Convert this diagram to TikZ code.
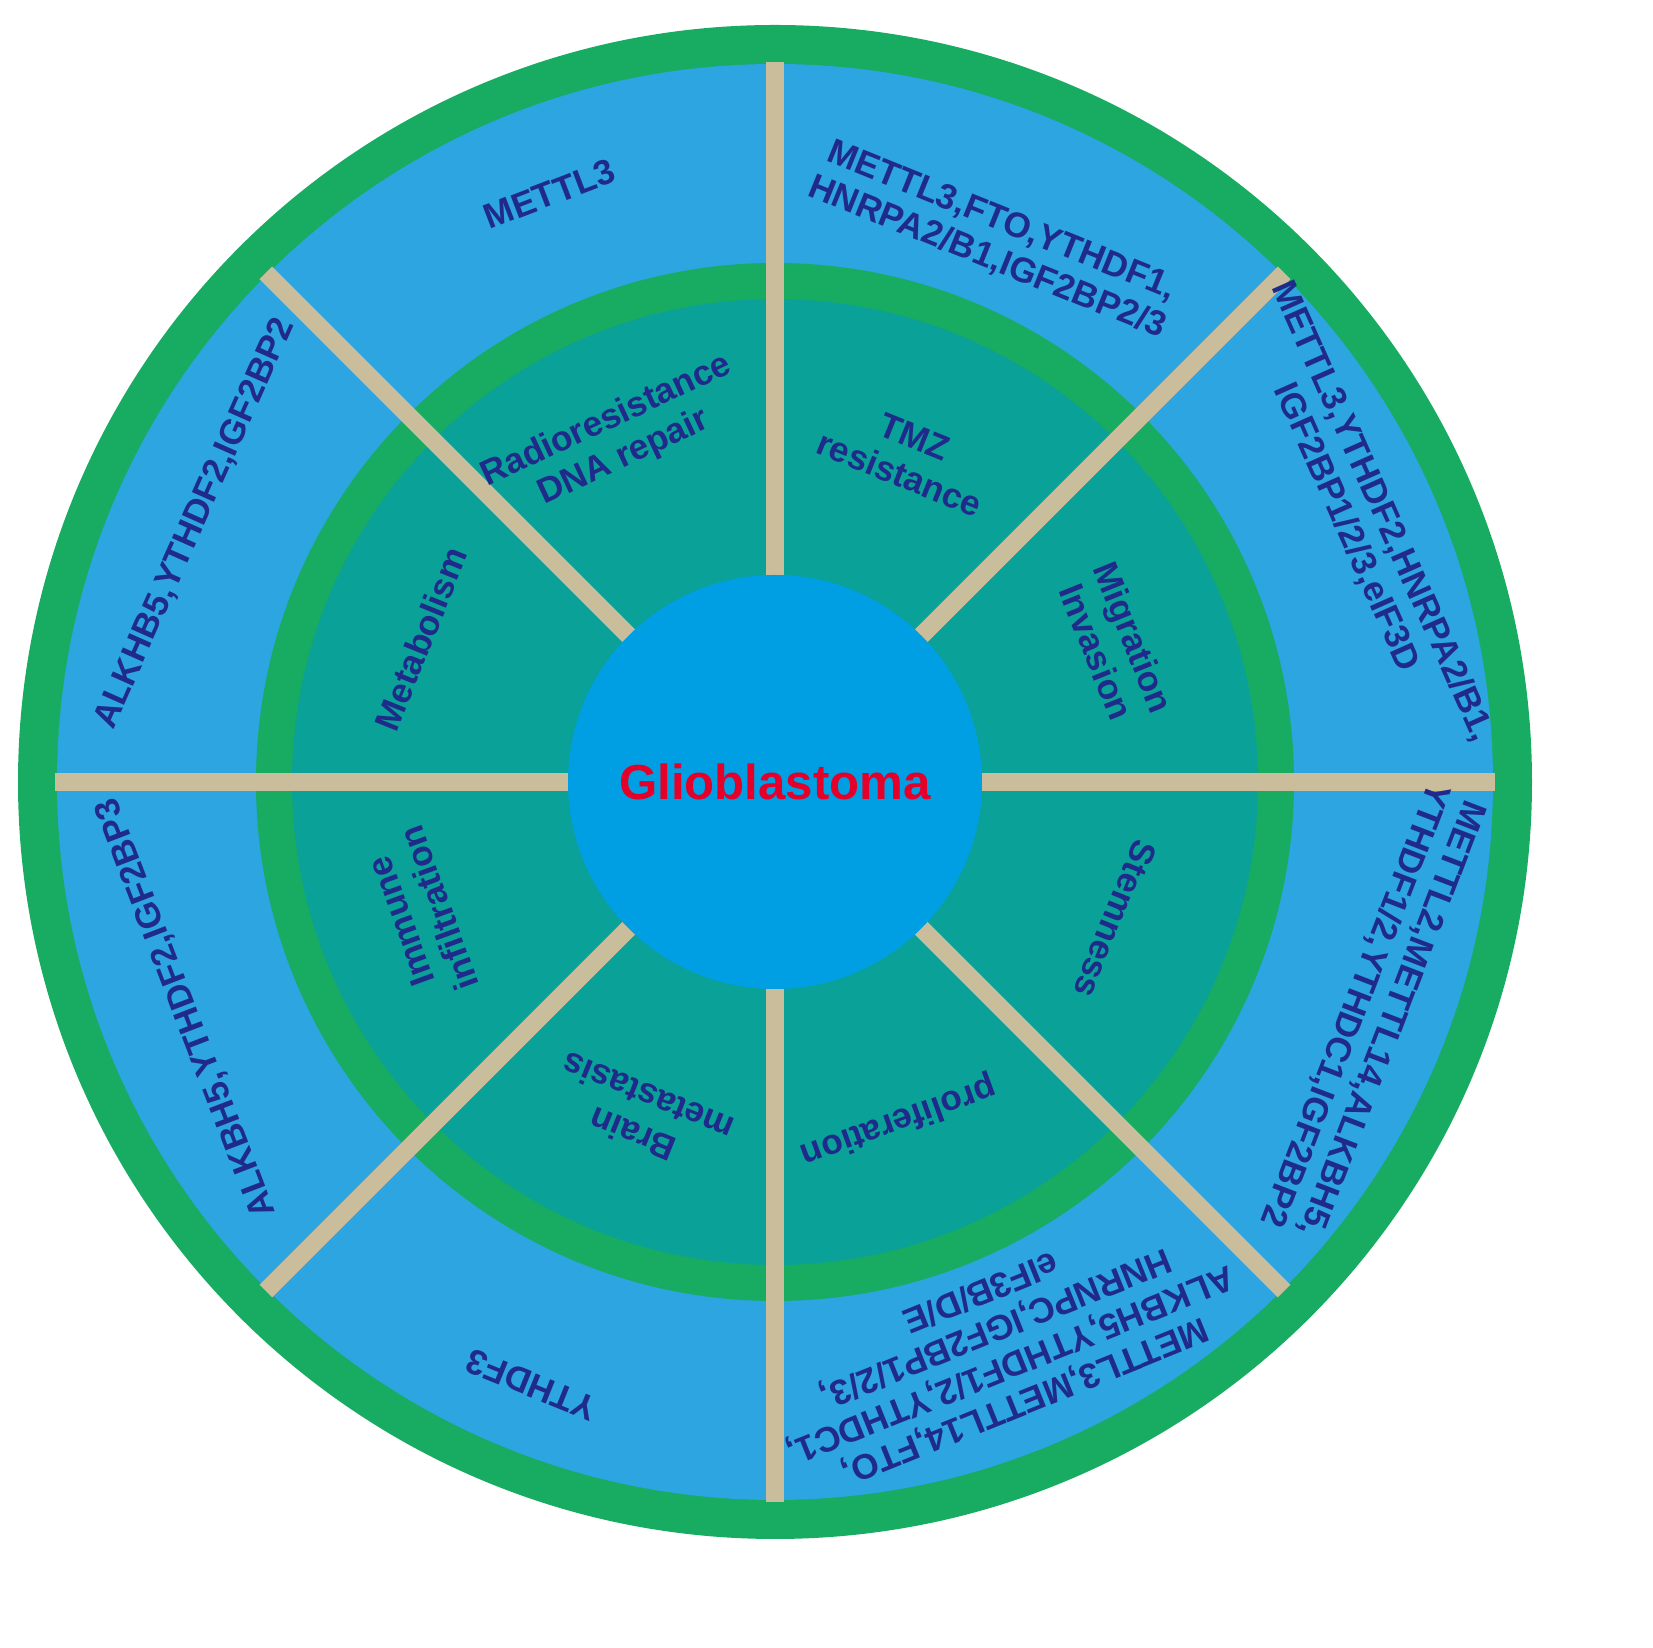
\documentclass[tikz,border=0pt]{standalone}
\usepackage{fontspec}
\setmainfont{Liberation Sans}
\definecolor{ogreen}{HTML}{17AC62}
\definecolor{ringblue}{HTML}{2CA5E0}
\definecolor{teal}{HTML}{0AA198}
\definecolor{cblue}{HTML}{009FE3}
\definecolor{navy}{HTML}{1F2A8A}
\definecolor{gred}{HTML}{E5002A}
\definecolor{tan}{HTML}{C9BD9C}
\tikzset{
 lab/.style={text=navy,font=\bfseries\fontsize{10}{11.2}\selectfont,align=center},
 ilab/.style={text=navy,font=\bfseries\fontsize{10}{11.5}\selectfont,align=center},
 divider/.style={draw=tan,line width=0.18cm}
}
\begin{document}
\begin{tikzpicture}
\useasboundingbox (0,0) rectangle (16.53,16.48);
\begin{scope}[shift={(7.75,8.66)}]
\fill[ogreen] (0,0) circle (7.57);
\fill[ringblue] (0,0) circle (7.18);
\fill[ogreen] (0,0) circle (5.19);
\fill[teal] (0,0) circle (4.83);
\foreach \a in {0,45,...,315} \draw[divider] (\a:2.06) -- (\a:7.2);
\node[circle,fill=cblue,minimum size=4.14cm,inner sep=0pt,text=gred,font=\bfseries\fontsize{14}{16}\selectfont] (c) at (0,0) {Glioblastoma};
% outer labels
\node[lab,rotate=21] (o1) at (111:6.3) {METTL3};
\node[lab,rotate=-22] (o2) at (68:5.85) {METTL3,FTO,YTHDF1,\\HNRPA2/B1,IGF2BP2/3};
\node[lab,rotate=-66] (o3) at (24:6.45) {METTL3,YTHDF2,HNRPA2/B1,\\IGF2BP1/2/3,eIF3D};
\node[lab,rotate=-111] (o4) at (-21:6.4) {METTL2,METTL14,ALKBH5,\\YTHDF1/2,YTHDC1,IGF2BP2};
\node[lab,rotate=-158] (o5) at (-68:6.1) {METTL3,METTL14,FTO,\\ALKBH5,YTHDF1/2,YTHDC1,\\HNRNPC,IGF2BP1/2/3,\\eIF3B/D/E};
\node[lab,rotate=158] (o6) at (-112:6.5) {YTHDF3};
\node[lab,rotate=111] (o7) at (201:6.3) {ALKBH5,YTHDF2,IGF2BP3};
\node[lab,rotate=66] (o8) at (156:6.35) {ALKHB5,YTHDF2,IGF2BP2};
% inner labels
\node[ilab,rotate=25] (i1) at (115:3.78) {Radioresistance\\DNA repair};
\node[ilab,rotate=-22] (i2) at (68:3.52) {TMZ\\resistance};
\node[ilab,rotate=-68] (i3) at (22:3.67) {Migration\\Invasion};
\node[ilab,rotate=-112] (i4) at (-22:3.67) {Stemness};
\node[ilab,rotate=-160] (i5) at (-70:3.6) {proliferation};
\node[ilab,rotate=158] (i6) at (-112:3.6) {Brain\\metastasis};
\node[ilab,rotate=110] (i7) at (200.5:3.79) {Immune\\infiltration};
\node[ilab,rotate=68] (i8) at (158:3.82) {Metabolism};
\end{scope}
\end{tikzpicture}
\end{document}
